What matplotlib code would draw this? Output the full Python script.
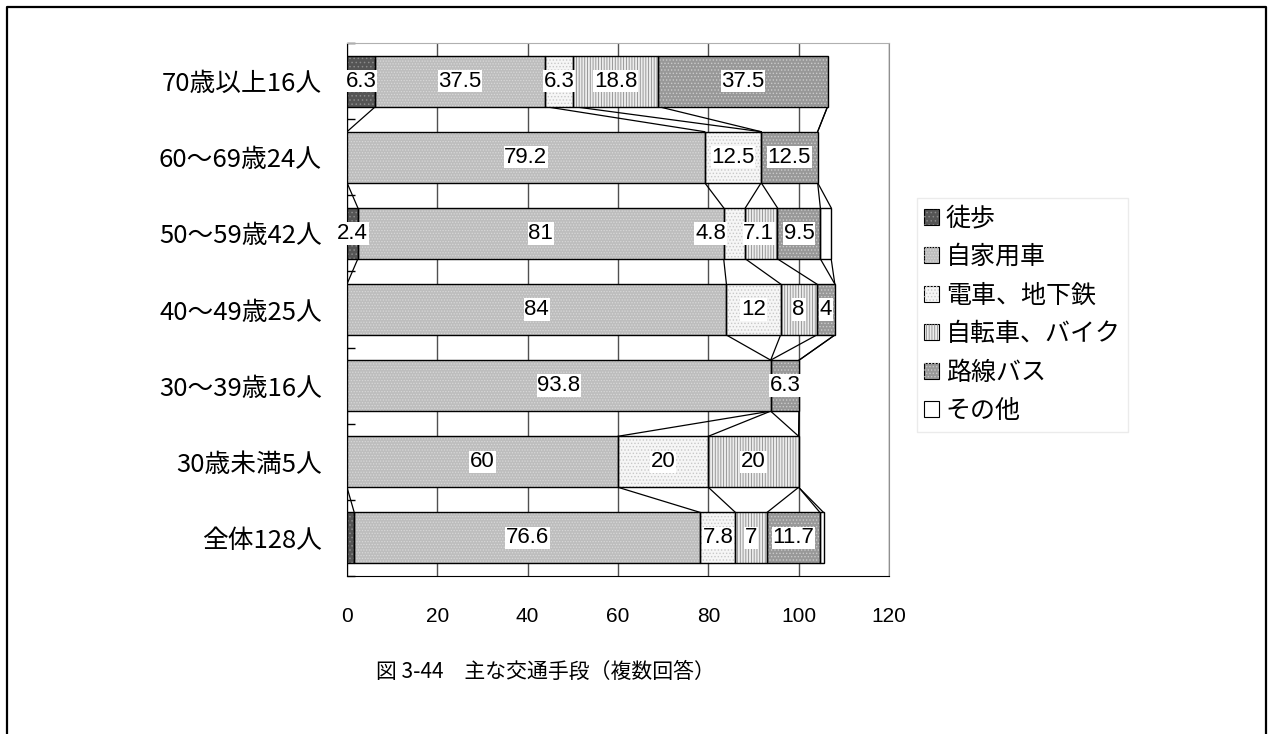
import matplotlib
matplotlib.use('Agg')
import matplotlib.pyplot as plt
from matplotlib.patches import Patch
from matplotlib.lines import Line2D
import numpy as np

# ---------------- data ----------------
categories = ['全体128人', '30歳未満5人', '30～39歳16人', '40～49歳25人',
              '50～59歳42人', '60～69歳24人', '70歳以上16人']
series_names = ['徒歩', '自家用車', '電車、地下鉄', '自転車、バイク', '路線バス', 'その他']
walk = [1.6, 0, 0, 0, 2.4, 0, 6.3]
car = [76.6, 60, 93.8, 84, 81, 79.2, 37.5]
train = [7.8, 20, 0, 12, 4.8, 12.5, 6.3]
bike = [7, 20, 0, 8, 7.1, 0, 18.8]
bus = [11.7, 0, 6.3, 4, 9.5, 12.5, 37.5]
other = [0.8, 0, 0, 0, 2.4, 0, 0]
x_ticks = [0, 20, 40, 60, 80, 100, 120]
caption = '図 3-44　主な交通手段（複数回答）'
# segments whose value label is not shown in the original
unlabeled = [('全体128人', '徒歩'), ('全体128人', 'その他'), ('50～59歳42人', 'その他')]
# labels nudged sideways in the original (in data units)
label_nudge = {('50～59歳42人', '電車、地下鉄'): -5.3, ('50～59歳42人', '自転車、バイク'): -0.6}

# ---------------- style ----------------
plt.rcParams['font.family'] = ['Noto Sans CJK JP', 'DejaVu Sans']
plt.rcParams['hatch.linewidth'] = 0.6
num_font = ['Liberation Sans', 'Noto Sans CJK JP', 'DejaVu Sans']
styles = [
    dict(fc='#555555', hc='#8a8a8a', hatch='....'),
    dict(fc='#bdbdbd', hc='#d8d8d8', hatch='......'),
    dict(fc='#f6f6f6', hc='#c8c8c8', hatch='.....'),
    dict(fc='#ececec', hc='#8c8c8c', hatch='||||||'),
    dict(fc='#989898', hc='#cacaca', hatch='.....'),
    dict(fc='#ffffff', hc=None, hatch=None),
]

W, H = 1268, 734
fig = plt.figure(figsize=(W / 100, H / 100), dpi=100)
ax = fig.add_axes([347 / W, 1 - 576 / H, 542 / W, 533 / H])

data = [walk, car, train, bike, bus, other]
y = np.arange(len(categories))
h = 0.67
left = np.zeros(len(categories))
cums = []
for name, vals, st in zip(series_names, data, styles):
    vals = np.array(vals, dtype=float)
    m = vals > 0
    ax.barh(y[m], vals[m], left=left[m], height=h, color=st['fc'],
            edgecolor='none', zorder=3)
    if st['hatch']:
        ax.barh(y[m], vals[m], left=left[m], height=h, color='none',
                edgecolor=st['hc'], hatch=st['hatch'], linewidth=0, zorder=4)
    ax.barh(y[m], vals[m], left=left[m], height=h, fill=False,
            edgecolor='black', linewidth=1.0, zorder=5)
    for i, v in enumerate(vals):
        if v > 0 and (categories[i], name) not in unlabeled:
            dx = label_nudge.get((categories[i], name), 0)
            ax.text(left[i] + v / 2 + dx, y[i], f'{v:g}', ha='center', va='center',
                    fontsize=16, zorder=7, family=num_font,
                    bbox=dict(facecolor='white', edgecolor='none', pad=0.4))
    left = left + vals
    cums.append(left.copy())

# series lines
for cum in cums:
    for i in range(len(categories) - 1):
        ax.plot([cum[i], cum[i + 1]], [y[i] + h / 2, y[i + 1] - h / 2],
                color='black', linewidth=0.9, zorder=2)

ax.set_xlim(0, 120)
ax.set_ylim(-0.5, len(categories) - 0.5)
ax.set_xticks(x_ticks)
ax.set_xticklabels([str(t) for t in x_ticks], fontsize=15, family=num_font)
ax.tick_params(axis='x', length=0, pad=22)
ax.set_yticks(y)
ax.set_yticklabels(categories, fontsize=18.5)
ax.tick_params(axis='y', which='major', length=0, pad=18)
ax.set_yticks(np.arange(-0.5, len(categories), 1.0), minor=True)
ax.tick_params(axis='y', which='minor', direction='in', length=6, width=1, color='black')
ax.set_axisbelow(True)
ax.xaxis.grid(True, color='#505050', linewidth=1.0)
ax.spines['top'].set_color('#b0b0b0')
ax.spines['right'].set_color('#909090')
ax.spines['left'].set_color('black')
ax.spines['bottom'].set_color('black')

# legend
handles = []
for st in styles:
    base = Patch(facecolor=st['fc'], edgecolor='black', linewidth=0.8)
    if st['hatch']:
        hp = Patch(facecolor='none', edgecolor=st['hc'], hatch=st['hatch'], linewidth=0)
        handles.append((base, hp))
    else:
        handles.append(base)
leg = fig.legend(handles, series_names, loc='upper left',
                 bbox_to_anchor=(917 / W, 1 - 198 / H), fontsize=18,
                 frameon=True, fancybox=False, edgecolor='#e6e6e6',
                 handlelength=0.6, handleheight=0.6, handletextpad=0.25,
                 labelspacing=0.5, borderpad=0.3, borderaxespad=0)
leg.get_frame().set_linewidth(1.0)

fig.text(545 / W, 1 - 672 / H, caption, ha='center', va='center', fontsize=15,
         family=['Noto Sans CJK JP', 'DejaVu Sans'])

fig.add_artist(Line2D([7 / W, 7 / W, 1266 / W, 1266 / W],
                      [0, 1 - 7 / H, 1 - 7 / H, 0],
                      transform=fig.transFigure, color='black', linewidth=1.6))

fig.savefig('out.png', dpi=100)
